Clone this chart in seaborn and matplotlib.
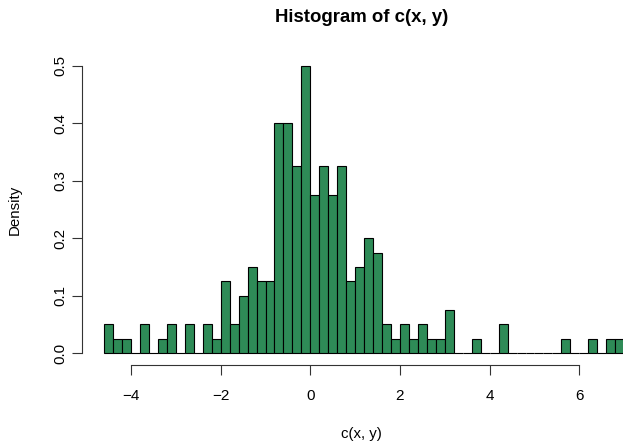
import numpy as np
import pandas as pd
import matplotlib
matplotlib.use("Agg")
import matplotlib.pyplot as plt
import seaborn as sns

# ---- data ----
bin_start = -4.6
bin_width = 0.2
densities = [0.05, 0.025, 0.025, 0.0, 0.05, 0.0, 0.025, 0.05, 0.0, 0.05,
             0.0, 0.05, 0.025, 0.125, 0.05, 0.1, 0.15, 0.125, 0.125, 0.4,
             0.4, 0.325, 0.5, 0.275, 0.325, 0.275, 0.325, 0.125, 0.15, 0.2,
             0.175, 0.05, 0.025, 0.05, 0.025, 0.05, 0.025, 0.025, 0.075, 0.0,
             0.0, 0.025, 0.0, 0.0, 0.05, 0.0, 0.0, 0.0, 0.0, 0.0,
             0.0, 0.025, 0.0, 0.0, 0.025, 0.0, 0.025, 0.025]
x_ticks = [-4, -2, 0, 2, 4, 6]
x_ticklabels = ["\u22124", "\u22122", "0", "2", "4", "6"]
y_ticks = [0.0, 0.1, 0.2, 0.3, 0.4, 0.5]
y_ticklabels = ["0.0", "0.1", "0.2", "0.3", "0.4", "0.5"]
title = "Histogram of c(x, y)"
xlabel = "c(x, y)"
ylabel = "Density"

sns.set_style("white")
plt.rcParams["font.family"] = ["Liberation Sans", "DejaVu Sans"]
plt.rcParams["text.color"] = "black"
plt.rcParams["axes.labelcolor"] = "black"
plt.rcParams["xtick.color"] = "black"
plt.rcParams["ytick.color"] = "black"

edges = [bin_start + bin_width * i for i in range(len(densities) + 1)]
centers = [(edges[i] + edges[i + 1]) / 2 for i in range(len(densities))]
df = pd.DataFrame({"x": centers, "w": densities})

W, H = 623, 442
fig = plt.figure(figsize=(W / 100, H / 100), dpi=100)
left_px, right_px, top_px, bot_px = 81.7, 641.0, 54.5, 364.5
ax = fig.add_axes([left_px / W, (H - bot_px) / H,
                   (right_px - left_px) / W, (bot_px - top_px) / H])

sns.histplot(data=df, x="x", weights="w", bins=edges, stat="count",
             color="#2E8B57", edgecolor="black", linewidth=0.8, alpha=1.0,
             ax=ax)

ax.set_xlim(-5.1, 7.376)
ax.set_ylim(-0.02, 0.52)
for s in ["top", "right"]:
    ax.spines[s].set_visible(False)
ax.spines["left"].set_bounds(0, 0.5)
ax.spines["bottom"].set_bounds(-4, 6)
for s in ["left", "bottom"]:
    ax.spines[s].set_color("#333333")
    ax.spines[s].set_linewidth(0.8)

ax.set_xticks(x_ticks)
ax.set_xticklabels(x_ticklabels, fontsize=11)
ax.set_yticks(y_ticks)
ax.set_yticklabels(y_ticklabels, fontsize=10.8, rotation=90, va="center")
ax.tick_params(axis="both", direction="out", length=7, width=0.8,
               color="#333333", labelcolor="black", left=True, bottom=True)
ax.tick_params(axis="x", pad=10.4)
ax.tick_params(axis="y", pad=3.4)

ax.set_title(title, fontsize=13.4, fontweight="bold", pad=23.2, color="black")
ax.set_xlabel(xlabel, fontsize=10.8, color="black")
ax.set_ylabel(ylabel, fontsize=10.8, color="black")
ax.xaxis.set_label_coords(0.5, -0.202)
ax.yaxis.set_label_coords(-(left_px - 21.5) / (right_px - left_px), 0.5)

fig.savefig("out.png", dpi=100)
